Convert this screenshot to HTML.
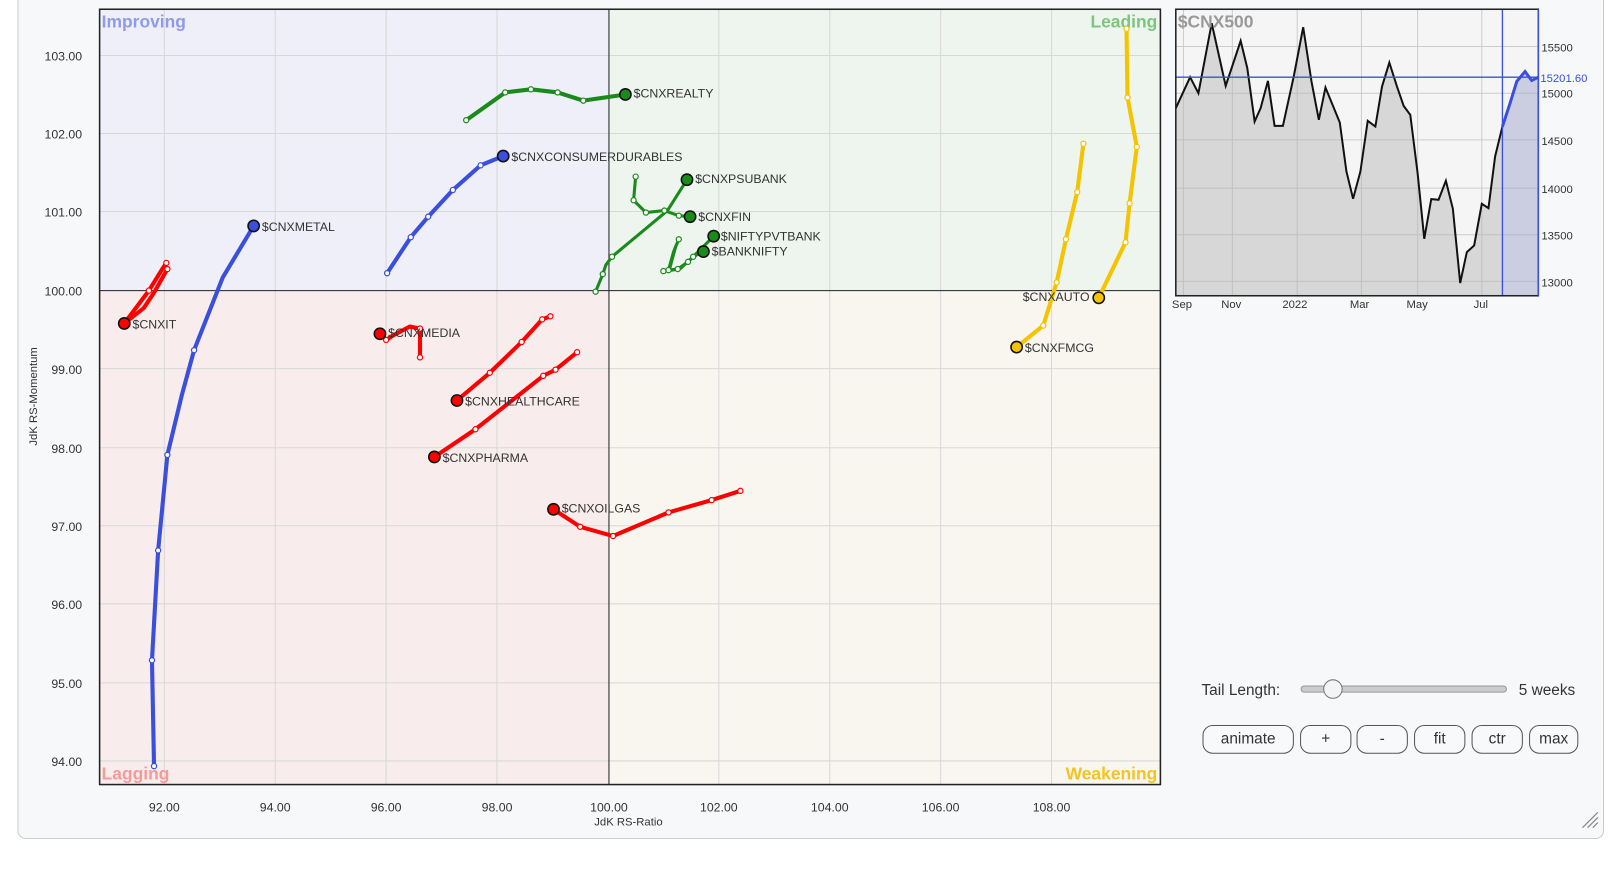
<!DOCTYPE html>
<html><head><meta charset="utf-8"><style>
html,body{margin:0;padding:0;background:#fff;width:1610px;height:848px;overflow:hidden;font-family:"Liberation Sans",sans-serif}
#w{position:absolute;left:0;top:0;width:1610px;height:848px;transform:scale(1.0269);transform-origin:0 0}
.btn{position:absolute;top:706px;height:26px;border:1px solid #555;border-radius:10px;background:#f8f9fb;font-size:15px;color:#333;text-align:center;line-height:26px}
</style></head><body><div id="w">
<div style="position:absolute;left:17px;top:-10px;width:1543px;height:825px;border:1px solid #ccc;border-radius:8px;background:#f7f8fa"></div>
<svg width="1610" height="848" style="position:absolute;left:0;top:0" font-family="Liberation Sans, sans-serif">
<rect x="97" y="9" width="496" height="274" fill="#eeeff8"/>
<rect x="593" y="9" width="537" height="274" fill="#eef4ee"/>
<rect x="97" y="283" width="496" height="481" fill="#f9ecec"/>
<rect x="593" y="283" width="537" height="481" fill="#f8f6ef"/>
<g stroke="#d8d8d8" stroke-width="1">
<line x1="160" y1="9" x2="160" y2="764"/><line x1="268" y1="9" x2="268" y2="764"/><line x1="376" y1="9" x2="376" y2="764"/><line x1="484" y1="9" x2="484" y2="764"/><line x1="700" y1="9" x2="700" y2="764"/><line x1="808" y1="9" x2="808" y2="764"/><line x1="916" y1="9" x2="916" y2="764"/><line x1="1024" y1="9" x2="1024" y2="764"/>
<line x1="97" y1="54" x2="1130" y2="54"/><line x1="97" y1="130" x2="1130" y2="130"/><line x1="97" y1="206" x2="1130" y2="206"/><line x1="97" y1="359" x2="1130" y2="359"/><line x1="97" y1="436" x2="1130" y2="436"/><line x1="97" y1="512" x2="1130" y2="512"/><line x1="97" y1="588" x2="1130" y2="588"/><line x1="97" y1="665" x2="1130" y2="665"/><line x1="97" y1="741" x2="1130" y2="741"/>
</g>
<line x1="593" y1="9" x2="593" y2="764" stroke="#222"/><line x1="97" y1="283" x2="1130" y2="283" stroke="#222"/>
<rect x="97" y="9" width="1033" height="755" fill="none" stroke="#222" stroke-width="1.5"/>
<g font-size="17" font-weight="bold">
<text x="99" y="27" fill="#8f9be6">Improving</text>
<text x="1127" y="27" fill="#7cc57c" text-anchor="end">Leading</text>
<text x="99" y="759" fill="#f59a9a">Lagging</text>
<text x="1127" y="759" fill="#f2c522" text-anchor="end">Weakening</text>
</g>
<g font-size="12" fill="#333" text-anchor="end">
<text x="80" y="59">103.00</text><text x="80" y="135">102.00</text><text x="80" y="211">101.00</text><text x="80" y="288">100.00</text><text x="80" y="364">99.00</text><text x="80" y="441">98.00</text><text x="80" y="517">97.00</text><text x="80" y="593">96.00</text><text x="80" y="670">95.00</text><text x="80" y="746">94.00</text>
</g>
<g font-size="12" fill="#333" text-anchor="middle">
<text x="160" y="790">92.00</text><text x="268" y="790">94.00</text><text x="376" y="790">96.00</text><text x="484" y="790">98.00</text><text x="593" y="790">100.00</text><text x="700" y="790">102.00</text><text x="808" y="790">104.00</text><text x="916" y="790">106.00</text><text x="1024" y="790">108.00</text>
<text x="612" y="804" font-size="11">JdK RS-Ratio</text>
<text x="0" y="0" font-size="11" transform="translate(36 386) rotate(-90)">JdK RS-Momentum</text>
</g>
<g fill="none" stroke-linecap="round" stroke-linejoin="round" stroke-width="4">
<polyline stroke="#3a4fdc" points="150,746 148,643 154,536 163,443 177,385 189,341 217,270 247,220"/>
<polyline stroke="#3a4fdc" points="377,266 400,231 417,211 441,185 468,161 490,152"/>
<polyline stroke="#1a8a1a" points="454,117 492,90 517,87 543,90 568,98 609,92"/>
<g stroke-width="3"><polyline stroke="#1a8a1a" points="580,284 587,267 590,258 596,250 650,205 669,175"/>
<polyline stroke="#1a8a1a" points="619,172 617,195 629,207 647,205 661,210 672,211"/>
<polyline stroke="#1a8a1a" points="661,233 656,245 651,263 660,262 670,255 695,230"/>
<polyline stroke="#1a8a1a" points="658,240 652,262 646,264 662,262 675,250 685,245"/></g>
<polyline stroke="#f00" points="409,348 409,320 399,318 384,326 376,331 370,325"/>
<polyline stroke="#f00" points="162,256 158,262 145,283 121,315"/>
<polyline stroke="#f00" points="163,262 150,285 140,300 121,315"/>
<polyline stroke="#f00" points="536,308 528,311 508,333 477,363 445,390"/>
<polyline stroke="#f00" points="562,343 541,360 529,366 463,418 423,445"/>
<polyline stroke="#f00" points="721,478 693,487 651,499 597,522 565,513 539,496"/>
<polyline stroke="#f5c400" points="1097,28 1098,95 1107,143 1100,198 1096,236 1070,290"/>
<polyline stroke="#f5c400" points="1055,140 1049,187 1038,233 1029,275 1016,317 990,338"/>
</g>
<g fill="#fff" stroke-width="1.2">
<g stroke="#3a4fdc"><circle cx="150" cy="746" r="2.5"/><circle cx="148" cy="643" r="2.5"/><circle cx="154" cy="536" r="2.5"/><circle cx="163" cy="443" r="2.5"/><circle cx="189" cy="341" r="2.5"/><circle cx="377" cy="266" r="2.5"/><circle cx="400" cy="231" r="2.5"/><circle cx="417" cy="211" r="2.5"/><circle cx="441" cy="185" r="2.5"/><circle cx="468" cy="161" r="2.5"/></g>
<g stroke="#1a8a1a"><circle cx="454" cy="117" r="2.5"/><circle cx="492" cy="90" r="2.5"/><circle cx="517" cy="87" r="2.5"/><circle cx="543" cy="90" r="2.5"/><circle cx="568" cy="98" r="2.5"/><circle cx="580" cy="284" r="2.5"/><circle cx="587" cy="267" r="2.5"/><circle cx="596" cy="250" r="2.5"/><circle cx="619" cy="172" r="2.5"/><circle cx="617" cy="195" r="2.5"/><circle cx="629" cy="207" r="2.5"/><circle cx="647" cy="205" r="2.5"/><circle cx="661" cy="210" r="2.5"/><circle cx="661" cy="233" r="2.5"/><circle cx="651" cy="263" r="2.5"/><circle cx="660" cy="262" r="2.5"/><circle cx="670" cy="255" r="2.5"/><circle cx="646" cy="264" r="2.5"/><circle cx="675" cy="250" r="2.5"/></g>
<g stroke="#f00"><circle cx="409" cy="348" r="2.5"/><circle cx="409" cy="320" r="2.5"/><circle cx="376" cy="331" r="2.5"/><circle cx="162" cy="256" r="2.5"/><circle cx="163" cy="262" r="2.5"/><circle cx="145" cy="283" r="2.5"/><circle cx="536" cy="308" r="2.5"/><circle cx="528" cy="311" r="2.5"/><circle cx="508" cy="333" r="2.5"/><circle cx="477" cy="363" r="2.5"/><circle cx="562" cy="343" r="2.5"/><circle cx="541" cy="360" r="2.5"/><circle cx="529" cy="366" r="2.5"/><circle cx="463" cy="418" r="2.5"/><circle cx="721" cy="478" r="2.5"/><circle cx="693" cy="487" r="2.5"/><circle cx="651" cy="499" r="2.5"/><circle cx="597" cy="522" r="2.5"/><circle cx="565" cy="513" r="2.5"/></g>
<g stroke="#f5c400"><circle cx="1097" cy="28" r="2.5"/><circle cx="1098" cy="95" r="2.5"/><circle cx="1107" cy="143" r="2.5"/><circle cx="1100" cy="198" r="2.5"/><circle cx="1096" cy="236" r="2.5"/><circle cx="1055" cy="140" r="2.5"/><circle cx="1049" cy="187" r="2.5"/><circle cx="1038" cy="233" r="2.5"/><circle cx="1029" cy="275" r="2.5"/><circle cx="1016" cy="317" r="2.5"/></g>
</g>
<g stroke="#111" stroke-width="1.5">
<circle cx="247" cy="220" r="5.5" fill="#3a4fdc"/><circle cx="490" cy="152" r="5.5" fill="#3a4fdc"/>
<circle cx="609" cy="92" r="5.5" fill="#1a8a1a"/><circle cx="669" cy="175" r="5.5" fill="#1a8a1a"/><circle cx="672" cy="211" r="5.5" fill="#1a8a1a"/><circle cx="695" cy="230" r="5.5" fill="#1a8a1a"/><circle cx="685" cy="245" r="5.5" fill="#1a8a1a"/>
<circle cx="121" cy="315" r="5.5" fill="#f00"/><circle cx="370" cy="325" r="5.5" fill="#f00"/><circle cx="445" cy="390" r="5.5" fill="#f00"/><circle cx="423" cy="445" r="5.5" fill="#f00"/><circle cx="539" cy="496" r="5.5" fill="#f00"/>
<circle cx="1070" cy="290" r="5.5" fill="#f5c400"/><circle cx="990" cy="338" r="5.5" fill="#f5c400"/>
</g>
<g font-size="12" fill="#333">
<text x="255" y="225">$CNXMETAL</text><text x="498" y="157">$CNXCONSUMERDURABLES</text><text x="617" y="95">$CNXREALTY</text><text x="677" y="178">$CNXPSUBANK</text><text x="680" y="215">$CNXFIN</text><text x="702" y="234">$NIFTYPVTBANK</text><text x="693" y="249">$BANKNIFTY</text>
<text x="129" y="320">$CNXIT</text><text x="378" y="328">$CNXMEDIA</text><text x="453" y="395">$CNXHEALTHCARE</text><text x="431" y="450">$CNXPHARMA</text><text x="547" y="499">$CNXOILGAS</text>
<text x="1061" y="293" text-anchor="end">$CNXAUTO</text><text x="998" y="343">$CNXFMCG</text>
</g>
<rect x="1145" y="9" width="353" height="279" fill="#f5f5f5"/>
<g transform="translate(1145 9) scale(0.3239 0.3244) translate(-135 -28)">
<g stroke="#ccc" stroke-width="3"><line x1="135" y1="140" x2="1225" y2="140"/><line x1="135" y1="280" x2="1225" y2="280"/><line x1="135" y1="420" x2="1225" y2="420"/><line x1="135" y1="565" x2="1225" y2="565"/><line x1="135" y1="705" x2="1225" y2="705"/><line x1="135" y1="845" x2="1225" y2="845"/>
<line x1="158" y1="28" x2="158" y2="888"/><line x1="305" y1="28" x2="305" y2="888"/><line x1="500" y1="28" x2="500" y2="888"/><line x1="693" y1="28" x2="693" y2="888"/><line x1="862" y1="28" x2="862" y2="888"/><line x1="1055" y1="28" x2="1055" y2="888"/></g>
<polygon fill="rgba(180,180,180,0.45)" points="135,888 135,325 178,232 203,280 243,70 285,258 330,123 350,205 372,365 390,325 412,243 432,378 457,378 490,228 518,82 543,245 565,360 585,263 628,368 648,515 668,597 690,515 712,363 735,380 755,260 777,188 800,260 820,318 840,345 862,520 882,717 903,598 925,600 947,543 968,627 990,850 1010,757 1032,737 1055,612 1075,625 1095,470 1117,380 1117,888"/>
<polygon fill="rgba(150,160,200,0.45)" points="1117,888 1117,380 1140,310 1160,245 1185,215 1205,242 1225,232 1225,888"/>
<polyline fill="none" stroke="#111" stroke-width="6" points="135,325 178,232 203,280 243,70 285,258 330,123 350,205 372,365 390,325 412,243 432,378 457,378 490,228 518,82 543,245 565,360 585,263 628,368 648,515 668,597 690,515 712,363 735,380 755,260 777,188 800,260 820,318 840,345 862,520 882,717 903,598 925,600 947,543 968,627 990,850 1010,757 1032,737 1055,612 1075,625 1095,470 1117,380"/>
<polyline fill="none" stroke="#3a4fdc" stroke-width="9" points="1117,380 1140,310 1160,245 1185,215 1205,242 1225,232"/>
<line x1="135" y1="232" x2="1225" y2="232" stroke="#3a4fdc" stroke-width="4"/>
<line x1="1117" y1="28" x2="1117" y2="888" stroke="#3a4fdc" stroke-width="4"/>
</g>
<rect x="1145" y="9" width="353" height="279" fill="none" stroke="#222" stroke-width="1.5"/>
<line x1="1498" y1="9" x2="1498" y2="288" stroke="#3a4fdc" stroke-width="1.5"/>
<text x="1147" y="27" font-size="17" font-weight="bold" fill="#999">$CNX500</text>
<g font-size="11" fill="#333"><text x="1501" y="50">15500</text><text x="1501" y="95">15000</text><text x="1501" y="141">14500</text><text x="1501" y="188">14000</text><text x="1501" y="233">13500</text><text x="1501" y="279">13000</text><text x="1500" y="80" fill="#3a4fdc">15201.60</text>
<text x="1151" y="300" text-anchor="middle">Sep</text><text x="1199" y="300" text-anchor="middle">Nov</text><text x="1261" y="300" text-anchor="middle">2022</text><text x="1324" y="300" text-anchor="middle">Mar</text><text x="1380" y="300" text-anchor="middle">May</text><text x="1442" y="300" text-anchor="middle">Jul</text></g>
<text x="1170" y="677" font-size="15" fill="#333">Tail Length:</text>
<rect x="1267" y="668" width="200" height="6" rx="3" fill="#ccc" stroke="#999"/>
<circle cx="1298" cy="671" r="9" fill="#f4f4f4" stroke="#777"/>
<text x="1479" y="677" font-size="15" fill="#333">5 weeks</text>
<g stroke="#888" stroke-width="1.2"><line x1="1541" y1="806" x2="1556" y2="791"/><line x1="1546" y1="806" x2="1556" y2="796"/><line x1="1551" y1="806" x2="1556" y2="801"/></g>
</svg>
<div class="btn" style="left:1171px;width:87px">animate</div>
<div class="btn" style="left:1266px;width:48px">+</div>
<div class="btn" style="left:1321px;width:48px">-</div>
<div class="btn" style="left:1377px;width:48px">fit</div>
<div class="btn" style="left:1433px;width:48px">ctr</div>
<div class="btn" style="left:1489px;width:46px">max</div>
</div></body></html>
